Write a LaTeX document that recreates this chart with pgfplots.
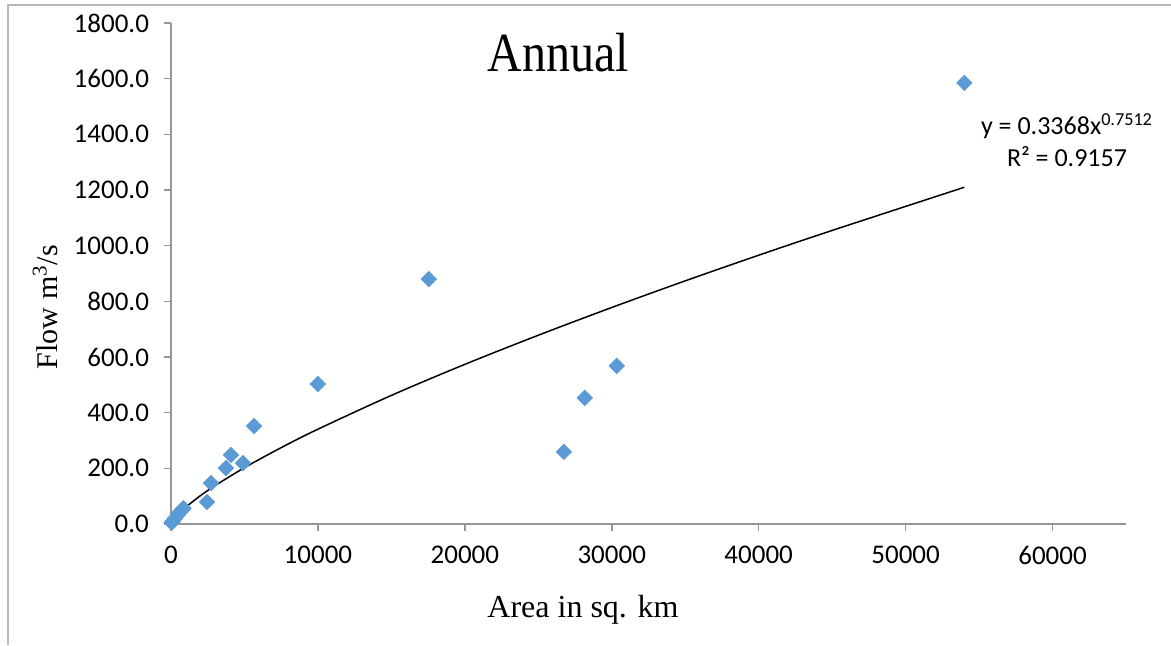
\documentclass[border=0pt]{standalone}
\usepackage{pgfplots}
\pgfplotsset{compat=1.18}
\usepackage{fontspec}
\setmainfont{Carlito}
\newfontfamily\tnr{Liberation Serif}
\definecolor{xblue}{RGB}{91,155,213}
\definecolor{axgray}{RGB}{150,150,150}
\definecolor{framegray}{RGB}{185,185,185}
\begin{document}
\begin{tikzpicture}
\useasboundingbox (0,0) rectangle (585.5pt,322.5pt);
\draw[framegray, line width=1pt] (4pt,0pt) -- (4pt,320pt) -- (585.5pt,320pt);
\begin{axis}[
  at={(85.5pt,60.5pt)}, anchor=south west,
  scale only axis, width=477.5pt, height=250.5pt,
  xmin=0, xmax=65000, ymin=0, ymax=1800,
  axis x line=bottom, axis y line=left,
  axis line style={axgray, line width=0.8pt, -},
  xtick={0,10000,20000,30000,40000,50000,60000},
  ytick={0,200,400,600,800,1000,1200,1400,1600,1800},
  tick align=outside, major tick length=3.5pt,
  tick style={axgray, line width=0.8pt},
  /pgf/number format/assume math mode=true,
  scaled x ticks=false, scaled y ticks=false,
  xticklabel style={/pgf/number format/set thousands separator={}, /pgf/number format/fixed, font=\fontsize{13.5}{15}\selectfont, yshift=-4pt},
  yticklabel style={/pgf/number format/fixed, /pgf/number format/precision=1, /pgf/number format/fixed zerofill, /pgf/number format/set thousands separator={}, font=\fontsize{13.5}{15}\selectfont, xshift=-4pt},
  clip=false,
]
\addplot[only marks, mark=square*, mark size=2.7pt, mark options={rotate=45, fill=xblue, draw=xblue}] coordinates {
(54000,1585) (17550,880) (10000,503) (30340,568) (28160,453) (26740,259)
(5650,352) (4080,248) (3740,201) (4900,219) (2720,147) (2450,79)
(50,5) (150,12) (300,22) (450,32) (600,42) (750,52) (850,56)
};
\addplot[black, line width=0.75pt, smooth] coordinates {
(50,6.36) (200,18.03) (500,35.9) (1000,60.4) (2000,101.7) (3000,137.9) (5000,202.4) (7500,274.4) (10000,340.7) (15000,462.1) (20000,573.6) (25000,678.2) (30000,777.9) (35000,873.6) (40000,965.7) (45000,1054.7) (54000,1209.9)
};
\end{axis}
\node[font=\tnr\fontsize{24}{28}\selectfont, yscale=1.15] at (279pt,296pt) {Annual};
\node[font=\tnr\fontsize{16}{18}\selectfont] at (291.5pt,17.5pt) {Area in sq. km};
\node[font=\tnr\fontsize{15}{18}\selectfont, rotate=90] at (22.5pt,169pt) {Flow m\textsuperscript{3}/s};
\node[font=\fontsize{13}{15}\selectfont] at (533.5pt,259.5pt) {y = 0.3368x\textsuperscript{0.7512}};
\node[font=\fontsize{13}{15}\selectfont] at (533.5pt,244pt) {R² = 0.9157};
\end{tikzpicture}
\end{document}
